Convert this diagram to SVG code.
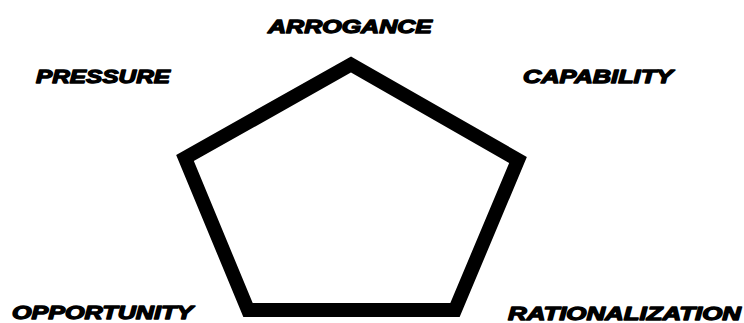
<svg xmlns="http://www.w3.org/2000/svg" width="744" height="323" viewBox="0 0 744 323">
<style>
.lbl{font-family:"Liberation Sans",Arial,sans-serif;font-size:18px;font-weight:bold;font-style:italic;fill:#000;stroke:#000;stroke-width:1.3px;stroke-linejoin:round;}
.pent{fill:none;stroke:#000;stroke-width:14;stroke-linejoin:miter;}
</style>
<rect width="744" height="323" fill="#fff"/>
<g id="connectors">
<polygon class="pent" points="351,64.5 518,160 455,310 248,310 185,158"/>
</g>
<g id="arrogance"><text class="lbl" x="268" y="33" textLength="164" lengthAdjust="spacingAndGlyphs">ARROGANCE</text></g>
<g id="pressure"><text class="lbl" x="36" y="83" textLength="134" lengthAdjust="spacingAndGlyphs">PRESSURE</text></g>
<g id="capability"><text class="lbl" x="523" y="83" textLength="150" lengthAdjust="spacingAndGlyphs">CAPABILITY</text></g>
<g id="opportunity"><text class="lbl" x="12" y="319" textLength="181" lengthAdjust="spacingAndGlyphs">OPPORTUNITY</text></g>
<g id="rationalization"><text class="lbl" x="508" y="320" textLength="233" lengthAdjust="spacingAndGlyphs">RATIONALIZATION</text></g>
</svg>
